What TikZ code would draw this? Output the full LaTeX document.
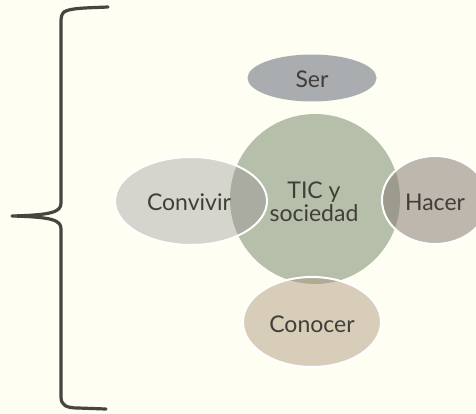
\documentclass[tikz,border=0pt]{standalone}
\usepackage{fontspec}
\setmainfont{Lato}
\usetikzlibrary{shapes.geometric}
\definecolor{bg}{HTML}{FEFEF3}
\definecolor{ink}{HTML}{403E38}
\definecolor{bracec}{HTML}{48443E}
\definecolor{circc}{HTML}{B5BFA9}
\definecolor{serc}{HTML}{A9ADB0}
\definecolor{convc}{HTML}{D6D5CD}
\definecolor{convov}{HTML}{AAABA1}
\definecolor{hacc}{HTML}{BDB7AD}
\definecolor{hacov}{HTML}{9C9B8D}
\definecolor{conc}{HTML}{D7CDB9}
\definecolor{conov}{HTML}{B1AA95}
\tikzset{
  blob/.style={ellipse, inner sep=0pt, draw=none},
  rim/.style={draw=white, line width=2pt},
  lbl/.style={text=ink, font=\fontsize{23}{23.5}\selectfont, inner sep=0pt, align=center},
  brace/.style={draw=bracec, line width=3.2pt, line cap=round, line join=round}
}
\begin{document}
\begin{tikzpicture}[x=1pt,y=-1pt]
\fill[bg] (0,0) rectangle (476,414);
\useasboundingbox (0,0) rectangle (476,414);
\clip (0,0) rectangle (476,414);
% brace
\draw[brace] (108,7) .. controls (85,8) and (70,8) .. (64,12) .. controls (61,15) and (61,18) .. (61,24)
  -- (61,203) .. controls (61,212) and (52,215) .. (12,216)
  (12,216) .. controls (52,217) and (61,220) .. (61,229)
  -- (61,397) .. controls (61,405) and (66,408) .. (78,408) -- (106,409);
% central circle
\node[circle, fill=circc, minimum size=170pt, inner sep=0pt] (tic) at (315,199) {};
% satellites
\node[blob, fill=serc, minimum width=129pt, minimum height=47pt] (ser) at (312,78) {};
\node[blob, fill=convc, minimum width=152pt, minimum height=88pt] (conv) at (191,201) {};
\node[blob, fill=hacc, minimum width=106pt, minimum height=88pt] (hac) at (435,200) {};
\node[blob, fill=conc, minimum width=138pt, minimum height=90pt] (con) at (312,322) {};
% overlaps
\begin{scope}
  \clip (tic.center) circle (85pt);
  \fill[convov] (conv.center) ellipse (76pt and 44pt);
  \fill[hacov] (hac.center) ellipse (53pt and 44pt);
  \fill[conov] (con.center) ellipse (69pt and 45pt);
\end{scope}
% rims
\draw[rim] (conv.center) ellipse (76pt and 44pt);
\draw[rim] (hac.center) ellipse (53pt and 44pt);
\draw[rim] (con.center) ellipse (69pt and 45pt);
% labels
\node[lbl] (tserv) at (312,79) {Ser};
\node[lbl] (tconv) at (189,202) {Convivir};
\node[lbl] (thac) at (435,202) {Hacer};
\node[lbl] (tcon) at (312,324) {Conocer};
\node[lbl] (ttic) at (314,202) {TIC y\\sociedad};
\end{tikzpicture}
\end{document}
